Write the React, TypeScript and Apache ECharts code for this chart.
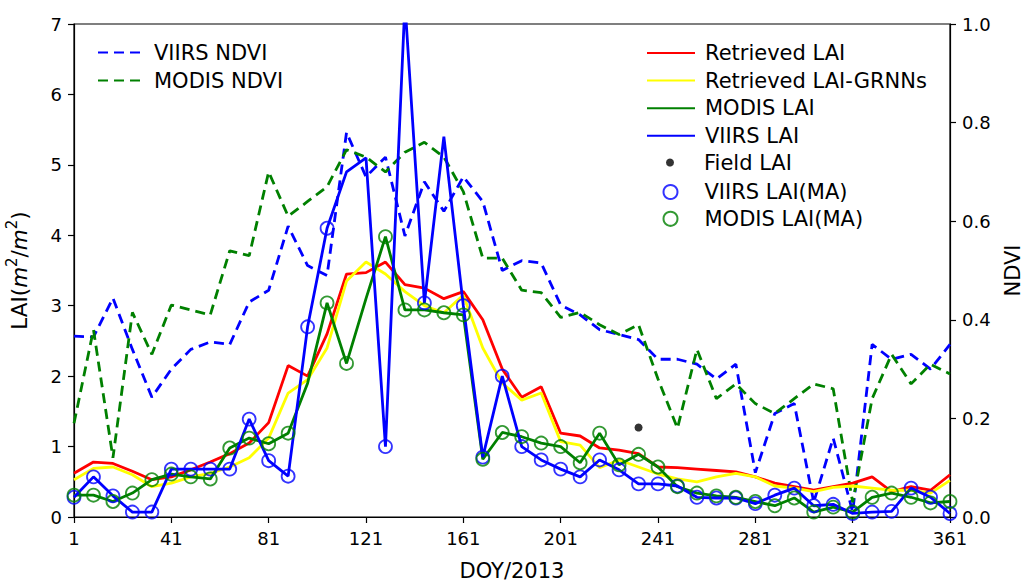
import React, { useEffect, useRef } from "react";
import * as echarts from "echarts";

const days = [1, 9, 17, 25, 33, 41, 49, 57, 65, 73, 81, 89, 97, 105, 113, 121, 129, 137, 145, 153, 161, 169, 177, 185, 193, 201, 209, 217, 225, 233, 241, 249, 257, 265, 273, 281, 289, 297, 305, 313, 321, 329, 337, 345, 353, 361];

const retrievedLAI = [0.62, 0.78, 0.76, 0.65, 0.53, 0.57, 0.67, 0.78, 0.9, 1.05, 1.34, 2.15, 2.0, 2.6, 3.45, 3.47, 3.62, 3.3, 3.25, 3.1, 3.2, 2.8, 2.1, 1.7, 1.85, 1.19, 1.15, 0.98, 0.95, 0.9, 0.71, 0.7, 0.68, 0.66, 0.64, 0.57, 0.48, 0.43, 0.38, 0.43, 0.48, 0.57, 0.36, 0.43, 0.38, 0.6];

const retrievedGRNN = [0.53, 0.69, 0.71, 0.6, 0.43, 0.48, 0.57, 0.62, 0.71, 0.84, 1.12, 1.76, 1.95, 2.4, 3.35, 3.62, 3.45, 3.2, 3.0, 2.9, 3.15, 2.4, 1.9, 1.66, 1.76, 1.07, 1.02, 0.7, 0.81, 0.71, 0.61, 0.54, 0.5, 0.57, 0.62, 0.57, 0.44, 0.41, 0.36, 0.42, 0.44, 0.41, 0.38, 0.38, 0.34, 0.52];

const modisLAI = [0.31, 0.31, 0.22, 0.34, 0.53, 0.61, 0.57, 0.54, 0.98, 1.12, 1.04, 1.19, 1.9, 3.04, 2.18, 3.1, 3.98, 2.94, 2.94, 2.9, 2.87, 0.82, 1.2, 1.14, 1.05, 1.0, 0.77, 1.19, 0.74, 0.89, 0.71, 0.43, 0.34, 0.3, 0.28, 0.22, 0.16, 0.27, 0.07, 0.14, 0.07, 0.28, 0.34, 0.28, 0.2, 0.22];

const viirsLAI = [0.28, 0.57, 0.3, 0.07, 0.07, 0.68, 0.68, 0.68, 0.68, 1.39, 0.8, 0.58, 2.7, 4.1, 4.9, 5.1, 1.0, 7.3, 3.04, 5.4, 3.0, 0.85, 2.0, 1.0, 0.81, 0.68, 0.57, 0.81, 0.67, 0.47, 0.47, 0.44, 0.28, 0.27, 0.27, 0.19, 0.31, 0.41, 0.16, 0.18, 0.05, 0.07, 0.08, 0.41, 0.28, 0.05];

// main-algorithm subsets (null = not retrieved by main algorithm)
const viirsMA = [0.28, 0.57, 0.3, 0.07, 0.07, 0.68, 0.68, 0.68, 0.68, 1.39, 0.8, 0.58, 2.7, 4.1, null, null, 1.0, null, 3.04, null, 3.0, 0.85, 2.0, 1.0, 0.81, 0.68, 0.57, 0.81, 0.67, 0.47, 0.47, 0.44, 0.28, 0.27, 0.27, 0.19, 0.31, 0.41, 0.16, 0.18, 0.05, 0.07, 0.08, 0.41, 0.28, 0.05];

const modisMA = [0.31, 0.31, 0.22, 0.34, 0.53, 0.61, 0.57, 0.54, 0.98, 1.12, 1.04, 1.19, null, 3.04, 2.18, null, 3.98, 2.94, 2.94, 2.9, 2.87, 0.82, 1.2, 1.14, 1.05, 1.0, 0.77, 1.19, 0.74, 0.89, 0.71, 0.43, 0.34, 0.3, 0.28, 0.22, 0.16, 0.27, 0.07, 0.14, 0.07, 0.28, 0.34, 0.28, 0.2, 0.22];

const viirsNDVI = [0.367, 0.365, 0.444, 0.34, 0.243, 0.3, 0.34, 0.355, 0.35, 0.436, 0.46, 0.59, 0.51, 0.49, 0.78, 0.69, 0.73, 0.57, 0.68, 0.62, 0.69, 0.64, 0.5, 0.52, 0.515, 0.43, 0.41, 0.38, 0.37, 0.36, 0.32, 0.32, 0.31, 0.28, 0.31, 0.09, 0.21, 0.23, 0.03, 0.16, 0.01, 0.35, 0.32, 0.33, 0.3, 0.35];

const modisNDVI = [0.19, 0.38, 0.12, 0.415, 0.33, 0.43, 0.42, 0.41, 0.54, 0.53, 0.7, 0.61, 0.64, 0.67, 0.745, 0.73, 0.7, 0.74, 0.76, 0.73, 0.66, 0.525, 0.525, 0.46, 0.455, 0.405, 0.415, 0.39, 0.37, 0.39, 0.28, 0.18, 0.34, 0.24, 0.27, 0.23, 0.21, 0.24, 0.27, 0.26, 0.03, 0.24, 0.33, 0.27, 0.31, 0.29];

const fieldDays = [233];
const fieldLAI = [1.27];

const xTicks = { min: 1, max: 361, step: 40 };

const FONT = "DejaVu Sans";

export default function App() {
  const ref = useRef<HTMLDivElement>(null);
  useEffect(() => {
    const chart = echarts.init(ref.current!, null, { renderer: "svg" });
    const pair = (arr: (number | null)[]) =>
      days.map((d, i) => [d, arr[i]]).filter((p) => p[1] !== null);
    const lineSeries = (name: string, arr: number[], color: string, yIndex: number, dashed: boolean, z: number) => ({
      name,
      type: "line",
      yAxisIndex: yIndex,
      data: pair(arr),
      symbol: "none",
      z,
      lineStyle: { color, width: 2.8, type: dashed ? [10, 6] : "solid" },
      itemStyle: { color },
    });
    const textStyle = { fontFamily: FONT, fontSize: 21, color: "#000", lineHeight: 21, padding: [0, 0, 0, 5] };
    const hideDot = { opacity: 0 };
    const option: any = {
      animation: false,
      backgroundColor: "#fff",
      textStyle: { fontFamily: FONT },
      grid: {
        left: 74,
        right: 77,
        top: 24,
        bottom: 66,
        outerBoundsMode: "none",
        containLabel: false,
        show: true,
        borderColor: "#000",
        borderWidth: 1.2,
        backgroundColor: "transparent",
      },
      legend: [
        { left: 92, top: 37, orient: "vertical", itemWidth: 46, itemHeight: 14, itemGap: 7, textStyle, itemStyle: hideDot, selectedMode: false, data: ["VIIRS NDVI", "MODIS NDVI"] },
        { left: 641, top: 37.5, orient: "vertical", itemWidth: 48, itemHeight: 14, itemGap: 6.6, textStyle, itemStyle: hideDot, selectedMode: false, data: ["Retrieved LAI", "Retrieved LAI-GRNNs", "MODIS LAI", "VIIRS LAI"] },
        { left: 661, top: 147, orient: "vertical", itemWidth: 48, itemHeight: 8, itemGap: 6.4, textStyle, selectedMode: false, data: ["Field LAI"] },
        { left: 657.5, top: 176.5, orient: "vertical", itemWidth: 48, itemHeight: 14, itemGap: 5.8, textStyle, selectedMode: false, data: ["VIIRS LAI(MA)", "MODIS LAI(MA)"] },
      ],
      xAxis: {
        type: "value",
        min: xTicks.min,
        max: xTicks.max,
        interval: xTicks.step,
        name: "DOY/2013",
        nameLocation: "middle",
        nameGap: 44,
        nameTextStyle: { fontSize: 21, lineHeight: 20, color: "#000", fontFamily: FONT },
        axisLine: { show: true, lineStyle: { color: "#000", width: 1.2 } },
        axisTick: { show: true, length: 6, lineStyle: { color: "#000", width: 1.2 } },
        axisLabel: { fontSize: 18, color: "#000", margin: 12, fontFamily: FONT },
        splitLine: { show: false },
      },
      yAxis: [
        {
          type: "value",
          position: "left",
          min: 0,
          max: 7,
          interval: 1,
          name: "{a|LAI(}{i|m}{s|2}{a|/}{i|m}{s|2}{a|)}",
          nameLocation: "middle",
          nameGap: 44,
          nameRotate: 90,
          nameTextStyle: {
            fontFamily: FONT,
            color: "#000",
            rich: {
              a: { fontSize: 21.5, fontFamily: FONT, color: "#000", lineHeight: 26, verticalAlign: "bottom" },
              i: { fontSize: 21.5, fontFamily: FONT, fontStyle: "italic", color: "#000", lineHeight: 26, verticalAlign: "bottom" },
              s: { fontSize: 15, fontFamily: FONT, color: "#000", lineHeight: 26, verticalAlign: "top" },
            },
          },
          axisLine: { show: true, lineStyle: { color: "#000", width: 1.2 } },
          axisTick: { show: true, length: 6, lineStyle: { color: "#000", width: 1.2 } },
          axisLabel: { fontSize: 18, color: "#000", margin: 12, fontFamily: FONT },
          splitLine: { show: false },
        },
        {
          type: "value",
          position: "right",
          min: 0,
          max: 1,
          interval: 0.2,
          name: "NDVI",
          nameLocation: "middle",
          nameGap: 53,
          nameRotate: 90,
          nameTextStyle: { fontSize: 21, lineHeight: 20, color: "#000", fontFamily: FONT },
          axisLine: { show: true, lineStyle: { color: "#000", width: 1.2 } },
          axisTick: { show: true, length: 6, lineStyle: { color: "#000", width: 1.2 } },
          axisLabel: { fontSize: 18, color: "#000", margin: 12, fontFamily: FONT, formatter: (v: number) => v.toFixed(1) },
          splitLine: { show: false },
        },
      ],
      series: [
        lineSeries("VIIRS NDVI", viirsNDVI, "#0000ff", 1, true, 2),
        lineSeries("MODIS NDVI", modisNDVI, "#008000", 1, true, 2),
        lineSeries("Retrieved LAI", retrievedLAI, "#ff0000", 0, false, 3),
        lineSeries("Retrieved LAI-GRNNs", retrievedGRNN, "#ffff00", 0, false, 3),
        lineSeries("MODIS LAI", modisLAI, "#008000", 0, false, 3),
        lineSeries("VIIRS LAI", viirsLAI, "#0000ff", 0, false, 4),
        {
          name: "Field LAI",
          type: "scatter",
          yAxisIndex: 0,
          data: fieldDays.map((d, i) => [d, fieldLAI[i]]),
          symbol: "circle",
          symbolSize: 8,
          itemStyle: { color: "#000" },
          z: 5,
        },
        {
          name: "VIIRS LAI(MA)",
          type: "scatter",
          yAxisIndex: 0,
          data: pair(viirsMA),
          symbol: "circle",
          symbolSize: 13,
          itemStyle: { color: "rgba(0,0,0,0)", borderColor: "#0000ff", borderWidth: 1.8 },
          z: 5,
        },
        {
          name: "MODIS LAI(MA)",
          type: "scatter",
          yAxisIndex: 0,
          data: pair(modisMA),
          symbol: "circle",
          symbolSize: 13,
          itemStyle: { color: "rgba(0,0,0,0)", borderColor: "#008000", borderWidth: 1.8 },
          z: 5,
        },
      ],
    };
    chart.setOption(option);
    return () => chart.dispose();
  }, []);
  return <div ref={ref} style={{ position: "fixed", left: 0, top: 0, width: 1027, height: 583 }} />;
}
